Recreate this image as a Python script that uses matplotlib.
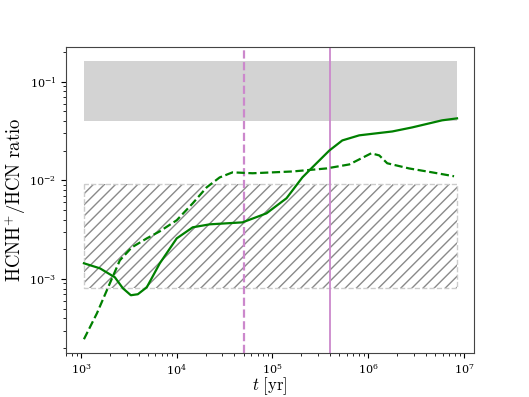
import matplotlib
matplotlib.use("Agg")
import matplotlib.pyplot as plt
import numpy as np

plt.rcParams['mathtext.fontset'] = 'cm'
plt.rcParams['font.family'] = ['DejaVu Serif']
plt.rcParams['hatch.linewidth'] = 1.0

# Solid model curve
t_solid = [1074, 1578, 2259, 2739, 3319, 3926, 4870, 6653, 1.0e4, 1.469e4, 2.208e4,
           4.87e4, 8.66e4, 1.40e5, 2.05e5, 2.61e5, 3.93e5, 5.36e5, 8.05e5, 1.78e6,
           2.87e6, 5.9e6, 8.45e6]
r_solid = [1.442e-3, 1.282e-3, 1.04e-3, 8.05e-4, 6.84e-4, 7.0e-4, 8.24e-4, 1.44e-3,
           2.58e-3, 3.34e-3, 3.58e-3, 3.75e-3, 4.63e-3, 6.58e-3, 1.07e-2, 1.355e-2,
           2.01e-2, 2.54e-2, 2.86e-2, 3.13e-2, 3.44e-2, 4.06e-2, 4.25e-2]

# Dashed model curve
t_dashed = [1074, 1469, 2004, 2547, 3396, 4870, 6653, 1.0e4, 1.469e4, 2.054e4, 2.805e4,
            3.828e4, 6.194e4, 1.614e5, 3.652e5, 6.34e5, 1.074e6, 1.303e6, 1.578e6,
            2.673e6, 4.645e6, 7.87e6]
r_dashed = [2.45e-4, 4.49e-4, 9.04e-4, 1.545e-3, 2.09e-3, 2.58e-3, 3.04e-3, 3.94e-3,
            5.85e-3, 8.49e-3, 1.07e-2, 1.205e-2, 1.18e-2, 1.23e-2, 1.32e-2, 1.45e-2,
            1.88e-2, 1.79e-2, 1.49e-2, 1.32e-2, 1.205e-2, 1.10e-2]

# Observed ranges
band_t = [1074, 8.5e6]
grey_band = [0.040, 0.162]
hatch_band = [8.1e-4, 9.1e-3]

# Vertical markers
t_dashed_vline = 5.0e4
t_solid_vline = 4.0e5

fig = plt.figure(figsize=(5.29, 3.97), dpi=100)
ax = fig.add_axes([0.1248, 0.111, 0.7712, 0.7706])

ax.fill_between(band_t, grey_band[0], grey_band[1], color='#d3d3d3', lw=0, zorder=1)
ax.fill_between(band_t, hatch_band[0], hatch_band[1], facecolor='white',
                edgecolor='#8a8a8a', hatch='///', lw=0, zorder=1)
ax.fill_between(band_t, hatch_band[0], hatch_band[1], facecolor='none',
                edgecolor='#cccccc', linestyle='--', lw=1.0, zorder=1)

ax.axvline(t_dashed_vline, color='#cc88cc', ls='--', lw=1.6, zorder=2)
ax.axvline(t_solid_vline, color='#cc88cc', ls='-', lw=1.3, zorder=2)

ax.plot(t_solid, r_solid, color='green', ls='-', lw=1.6, zorder=3)
ax.plot(t_dashed, r_dashed, color='green', ls='--', lw=1.6, zorder=3)

ax.set_xscale('log')
ax.set_yscale('log')
ax.set_xlim(10**2.844, 10**7.104)
ax.set_ylim(10**-3.75, 10**-0.648)

ax.set_xlabel(r'$t\ [\mathrm{yr}]$', fontsize=12, labelpad=-1.5)
ax.set_ylabel(r'$\mathrm{HCNH^{+}/HCN\ ratio}$', fontsize=13.5, labelpad=1)
ax.tick_params(labelsize=8)
for s in ax.spines.values():
    s.set_color('#444444')

fig.savefig('out.png', dpi=100)
